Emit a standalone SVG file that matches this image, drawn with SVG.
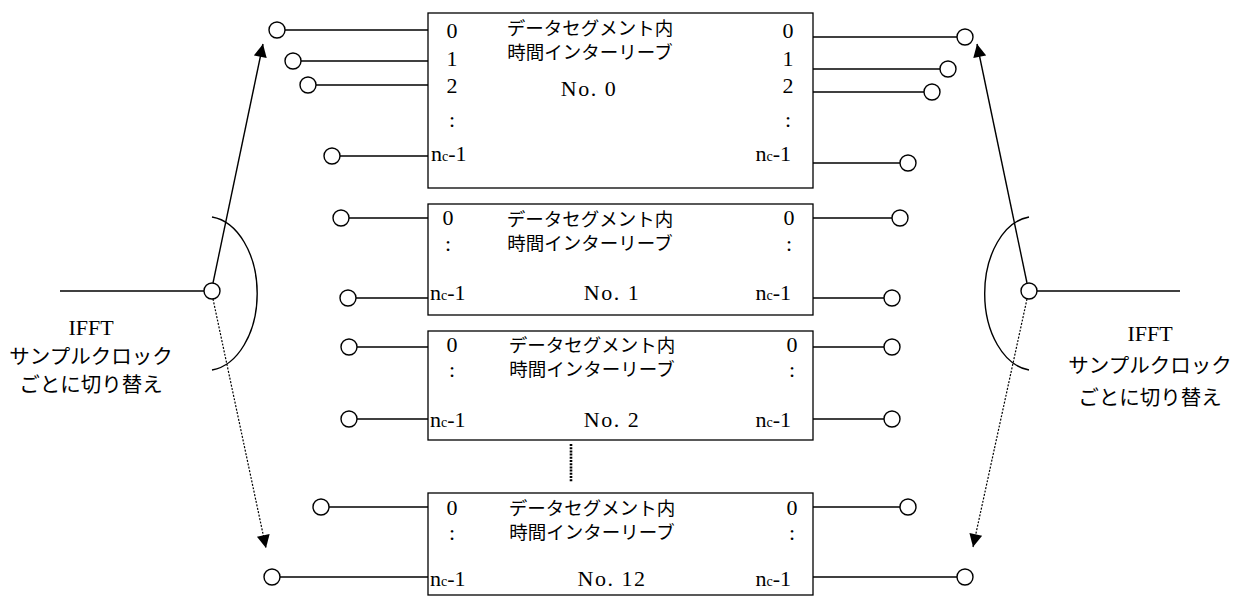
<svg xmlns="http://www.w3.org/2000/svg" width="1235" height="596" viewBox="0 0 1235 596">
<style>
.box{fill:#fff;stroke:#000;stroke-width:1.3}
.ln{stroke:#000;stroke-width:1.4;fill:none}
.dot{stroke:#000;stroke-width:1.2;fill:none;stroke-dasharray:2 1.5}
.c{fill:#fff;stroke:#000;stroke-width:1.4}
.jp{font-family:"Noto Sans CJK JP","Noto Sans",sans-serif;font-size:18.5px;text-anchor:middle}
.jl{font-family:"Noto Sans CJK JP","Noto Sans",sans-serif;font-size:20.5px;text-anchor:middle}
.sr{font-family:"Liberation Serif","Noto Sans CJK JP",serif;font-size:22px}
.no{letter-spacing:1.5px}
.m{text-anchor:middle}
.e{text-anchor:end}
.sub{font-size:14px}
</style>
<defs>
<marker id="ah" viewBox="0 0 10 10" refX="10" refY="5" markerWidth="18" markerHeight="13" markerUnits="userSpaceOnUse" orient="auto">
<path d="M0,0 L10,5 L0,10 z" fill="#000"/>
</marker>
</defs>

<g id="connectors">
<!-- box 0 -->
<line class="ln" x1="285" y1="30" x2="428" y2="30"/>
<line class="ln" x1="301" y1="61" x2="428" y2="61"/>
<line class="ln" x1="316" y1="85" x2="428" y2="85"/>
<line class="ln" x1="340" y1="156" x2="428" y2="156"/>
<line class="ln" x1="813" y1="37" x2="957" y2="37"/>
<line class="ln" x1="813" y1="69" x2="940" y2="69"/>
<line class="ln" x1="813" y1="92" x2="924" y2="92"/>
<line class="ln" x1="813" y1="163" x2="900" y2="163" stroke-width="1.8"/>
<!-- box 1 -->
<line class="ln" x1="349" y1="218" x2="428" y2="218"/>
<line class="ln" x1="356" y1="298" x2="428" y2="298"/>
<line class="ln" x1="813" y1="218" x2="892" y2="218"/>
<line class="ln" x1="813" y1="298" x2="884" y2="298"/>
<!-- box 2 -->
<line class="ln" x1="357" y1="347" x2="428" y2="347"/>
<line class="ln" x1="357" y1="419" x2="428" y2="419"/>
<line class="ln" x1="813" y1="347" x2="884" y2="347"/>
<line class="ln" x1="813" y1="419" x2="884" y2="419"/>
<!-- box 12 -->
<line class="ln" x1="329" y1="507" x2="428" y2="507"/>
<line class="ln" x1="280" y1="577" x2="428" y2="577"/>
<line class="ln" x1="813" y1="507" x2="900" y2="507"/>
<line class="ln" x1="813" y1="577" x2="957" y2="577"/>
<!-- vertical dots between boxes -->
<line x1="571" y1="444" x2="571" y2="482" stroke="#000" stroke-width="2.6" stroke-dasharray="2 1.2"/>
<!-- left switch -->
<line class="ln" x1="60" y1="291" x2="204" y2="291"/>
<path class="ln" d="M212,217 A51,77 0 0 1 212,370"/>
<line class="ln" x1="213" y1="283" x2="263" y2="44" marker-end="url(#ah)"/>
<line class="dot" x1="213" y1="299" x2="266" y2="548" marker-end="url(#ah)"/>
<!-- right switch -->
<line class="ln" x1="1037" y1="291" x2="1180" y2="291" stroke-width="1.8"/>
<path class="ln" d="M1029,217 A50,77 0 0 0 1029,370"/>
<line class="ln" x1="1027" y1="283" x2="977" y2="44" marker-end="url(#ah)"/>
<line class="dot" x1="1027" y1="299" x2="973" y2="547" marker-end="url(#ah)"/>
</g>

<g id="terminals">
<circle class="c" cx="277" cy="30" r="8"/>
<circle class="c" cx="293" cy="61" r="8"/>
<circle class="c" cx="308" cy="85" r="8"/>
<circle class="c" cx="332" cy="156" r="8"/>
<circle class="c" cx="965" cy="37" r="8"/>
<circle class="c" cx="948" cy="69" r="8"/>
<circle class="c" cx="932" cy="92" r="8"/>
<circle class="c" cx="908" cy="163" r="8"/>
<circle class="c" cx="341" cy="218" r="8"/>
<circle class="c" cx="348" cy="298" r="8"/>
<circle class="c" cx="900" cy="218" r="8"/>
<circle class="c" cx="892" cy="298" r="8"/>
<circle class="c" cx="349" cy="347" r="8"/>
<circle class="c" cx="349" cy="419" r="8"/>
<circle class="c" cx="892" cy="347" r="8"/>
<circle class="c" cx="892" cy="419" r="8"/>
<circle class="c" cx="321" cy="507" r="8"/>
<circle class="c" cx="272" cy="577" r="8"/>
<circle class="c" cx="908" cy="507" r="8"/>
<circle class="c" cx="965" cy="577" r="8"/>
<circle class="c" cx="212" cy="291" r="8"/>
<circle class="c" cx="1029" cy="291" r="8"/>
</g>

<g id="node-no0">
<rect class="box" x="428" y="13" width="385" height="175"/>
<text class="jp" x="590" y="35">データセグメント内</text>
<text class="jp" x="590" y="59">時間インターリーブ</text>
<text class="sr m no" x="589" y="96">No. 0</text>
<text class="sr m" x="452" y="38">0</text>
<text class="sr m" x="452" y="66">1</text>
<text class="sr m" x="452" y="93">2</text>
<text class="sr m" x="452" y="127">:</text>
<text class="sr" x="431" y="161">n<tspan class="sub">c</tspan>-1</text>
<text class="sr m" x="788" y="38">0</text>
<text class="sr m" x="788" y="66">1</text>
<text class="sr m" x="788" y="93">2</text>
<text class="sr m" x="788" y="127">:</text>
<text class="sr e" x="791" y="161">n<tspan class="sub">c</tspan>-1</text>
</g>

<g id="node-no1">
<rect class="box" x="428" y="204" width="385" height="111"/>
<text class="jp" x="590" y="226">データセグメント内</text>
<text class="jp" x="590" y="250">時間インターリーブ</text>
<text class="sr m no" x="612" y="300">No. 1</text>
<text class="sr m" x="448" y="225">0</text>
<text class="sr m" x="448" y="251">:</text>
<text class="sr" x="430" y="300">n<tspan class="sub">c</tspan>-1</text>
<text class="sr m" x="789" y="225">0</text>
<text class="sr m" x="789" y="251">:</text>
<text class="sr e" x="791" y="300">n<tspan class="sub">c</tspan>-1</text>
</g>

<g id="node-no2">
<rect class="box" x="428" y="331" width="385" height="109"/>
<text class="jp" x="592" y="352">データセグメント内</text>
<text class="jp" x="592" y="376">時間インターリーブ</text>
<text class="sr m no" x="612" y="427">No. 2</text>
<text class="sr m" x="452" y="352">0</text>
<text class="sr m" x="452" y="377">:</text>
<text class="sr" x="430" y="427">n<tspan class="sub">c</tspan>-1</text>
<text class="sr m" x="792" y="352">0</text>
<text class="sr m" x="792" y="377">:</text>
<text class="sr e" x="791" y="427">n<tspan class="sub">c</tspan>-1</text>
</g>

<g id="node-no12">
<rect class="box" x="428" y="493" width="385" height="102"/>
<text class="jp" x="592" y="515">データセグメント内</text>
<text class="jp" x="592" y="539">時間インターリーブ</text>
<text class="sr m no" x="612" y="586">No. 12</text>
<text class="sr m" x="452" y="515">0</text>
<text class="sr m" x="452" y="540">:</text>
<text class="sr" x="430" y="586">n<tspan class="sub">c</tspan>-1</text>
<text class="sr m" x="792" y="515">0</text>
<text class="sr m" x="792" y="540">:</text>
<text class="sr e" x="791" y="586">n<tspan class="sub">c</tspan>-1</text>
</g>

<g id="label-left">
<text class="sr m" x="91" y="335">IFFT</text>
<text class="jl" x="91" y="364">サンプルクロック</text>
<text class="jl" x="91" y="392">ごとに切り替え</text>
</g>
<g id="label-right">
<text class="sr m" x="1150" y="341">IFFT</text>
<text class="jl" x="1150" y="373">サンプルクロック</text>
<text class="jl" x="1150" y="405">ごとに切り替え</text>
</g>
</svg>
